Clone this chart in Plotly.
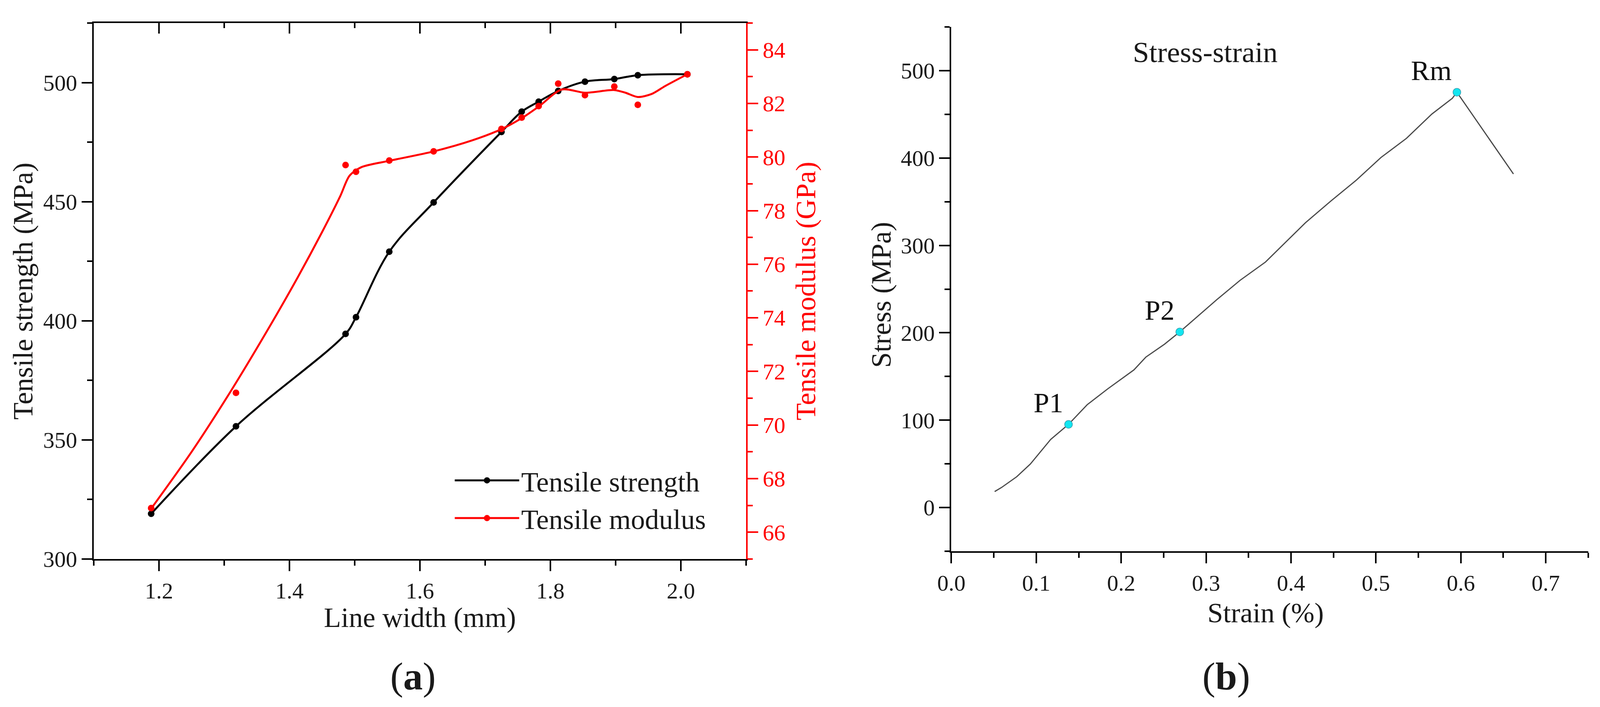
import plotly.graph_objects as go

# ---- panel (a): tensile properties vs line width ----
line_width = [1.188, 1.318, 1.486, 1.502, 1.553, 1.621, 1.725, 1.756, 1.782, 1.812, 1.853, 1.898, 1.934, 2.010]
tensile_strength = [319.0, 355.7, 394.5, 401.5, 429.0, 449.7, 479.3, 487.8, 492.0, 496.5, 500.4, 501.5, 503.1, 503.5]
tensile_modulus = [66.9, 71.2, 79.7, 79.45, 79.87, 80.21, 81.05, 81.47, 81.9, 82.74, 82.31, 82.63, 81.95, 83.09]

# smoothed modulus curve as drawn in the figure (does not pass through every point)
modulus_curve_x = [1.188, 1.25, 1.311, 1.363, 1.409, 1.45, 1.478, 1.492, 1.51, 1.553, 1.621, 1.68,
                   1.725, 1.756, 1.783, 1.8175, 1.853, 1.898, 1.915, 1.934, 1.955, 1.976, 2.010]
modulus_curve_y = [66.88, 69.0, 71.3, 73.4, 75.35, 77.2, 78.55, 79.3, 79.62, 79.86, 80.21, 80.62,
                   81.04, 81.45, 81.9, 82.52, 82.4, 82.5, 82.4, 82.24, 82.35, 82.65, 83.09]

# ---- panel (b): stress-strain curve ----
strain = [0.051, 0.059, 0.077, 0.093, 0.117, 0.138, 0.160, 0.184, 0.215, 0.229, 0.251, 0.269,
          0.313, 0.340, 0.370, 0.417, 0.447, 0.477, 0.506, 0.536, 0.566, 0.590, 0.5954, 0.662]
stress = [18.3, 22.9, 35.3, 49.8, 78.0, 95.2, 117.7, 135.7, 157.5, 172.1, 186.9, 201.0,
          238.2, 260.0, 281.0, 325.9, 350.8, 374.7, 400.6, 422.5, 450.4, 468.3, 475.3, 381.7]

point_strain = [0.138, 0.269, 0.5954]
point_stress = [95.2, 201.0, 475.3]
point_names = ["P1", "P2", "Rm"]

FONT = "Liberation Serif, Times New Roman, serif"
TICK = 58
TITLE = 72

fig = go.Figure()

fig.add_trace(go.Scatter(x=line_width, y=tensile_strength, mode="lines+markers",
                         name="Tensile strength",
                         line=dict(color="black", width=5, shape="spline"),
                         marker=dict(size=17, color="black"),
                         xaxis="x", yaxis="y"))
fig.add_trace(go.Scatter(x=modulus_curve_x, y=modulus_curve_y, mode="lines",
                         line=dict(color="red", width=5, shape="spline", smoothing=0.8),
                         showlegend=False, xaxis="x", yaxis="y2"))
fig.add_trace(go.Scatter(x=line_width, y=tensile_modulus, mode="markers",
                         marker=dict(size=17, color="red"),
                         showlegend=False, xaxis="x", yaxis="y2"))
# legend entry for the modulus series
fig.add_trace(go.Scatter(x=[None], y=[None], mode="lines+markers", name="Tensile modulus",
                         line=dict(color="red", width=5), marker=dict(size=17, color="red"),
                         xaxis="x", yaxis="y2"))
# keeps the top (inward ticks) axis alive
fig.add_trace(go.Scatter(x=[None], y=[None], showlegend=False, hoverinfo="skip",
                         xaxis="x3", yaxis="y"))

fig.add_trace(go.Scatter(x=strain, y=stress, mode="lines",
                         line=dict(color="#4a4a4a", width=3),
                         showlegend=False, xaxis="x2", yaxis="y3"))
fig.add_trace(go.Scatter(x=point_strain, y=point_stress, mode="markers+text",
                         text=point_names, textposition="top left",
                         textfont=dict(family=FONT, size=TITLE, color="#111111"),
                         marker=dict(size=20, color="#12e6f0", line=dict(color="#3a9fb0", width=1.5)),
                         showlegend=False, xaxis="x2", yaxis="y3"))

def ax(**kw):
    base = dict(showgrid=False, zeroline=False, showline=True, linewidth=4, linecolor="black",
                automargin=False,
                ticks="outside", ticklen=27, tickwidth=4, tickcolor="black",
                tickfont=dict(family=FONT, size=TICK, color="#1a1a1a"))
    base.update(kw)
    return base

minor_out = dict(ticks="outside", ticklen=13, tickwidth=4, tickcolor="black")

fig.update_layout(
    template="none",
    autosize=True,
    margin=dict(l=0, r=0, t=0, b=0, pad=0),
    paper_bgcolor="white", plot_bgcolor="white",
    font=dict(family=FONT, color="#1a1a1a"),
    xaxis=ax(domain=[0.0586, 0.4663], range=[1.1, 2.1], anchor="y", dtick=0.2, tick0=1.2,
             tickformat=".1f", minor=dict(dtick=0.1, **minor_out)),
    xaxis3=ax(domain=[0.0586, 0.4663], range=[1.1, 2.1], anchor="y", overlaying="x", side="top",
              dtick=0.2, tick0=1.2, ticks="inside", showticklabels=False,
              minor=dict(dtick=0.1, ticks="inside", ticklen=13, tickwidth=4, tickcolor="black")),
    yaxis=ax(domain=[0.2093, 0.9674], range=[300, 525], anchor="x", dtick=50,
             minor=dict(dtick=25, **minor_out)),
    yaxis2=ax(range=[65, 85], anchor="x", overlaying="y", side="right", dtick=2,
              linecolor="red", tickcolor="red",
              tickfont=dict(family=FONT, size=TICK, color="red"),
              minor=dict(dtick=1, ticks="outside", ticklen=13, tickwidth=4, tickcolor="red")),
    xaxis2=ax(domain=[0.5946, 0.9926], range=[0, 0.75], anchor="y3", dtick=0.1,
              tickformat=".1f", minor=dict(dtick=0.05, **minor_out)),
    yaxis3=ax(domain=[0.2203, 0.9619], range=[-50, 550], anchor="x2", dtick=100,
              minor=dict(dtick=50, **minor_out)),
    legend=dict(x=0.283, y=0.35, xanchor="left", yanchor="top",
                font=dict(family=FONT, size=TITLE, color="#1a1a1a"),
                bgcolor="rgba(0,0,0,0)", itemwidth=165),
    showlegend=True,
)

notes = [
    dict(text="Line width (mm)", x=0.2625, y=0.1265),
    dict(text="Tensile strength (MPa)", x=0.0144, y=0.5886, textangle=-90),
    dict(text="Tensile modulus (GPa)", x=0.5036, y=0.5886, textangle=-90, font=dict(color="red")),
    dict(text="Strain (%)", x=0.791, y=0.1331),
    dict(text="Stress (MPa)", x=0.5508, y=0.583, textangle=-90),
    dict(text="(<b>a</b>)", x=0.2583, y=0.0436, font=dict(size=100)),
    dict(text="(<b>b</b>)", x=0.7663, y=0.0436, font=dict(size=100)),
]
for n in notes:
    f = dict(family=FONT, size=TITLE, color="#1a1a1a")
    f.update(n.pop("font", {}))
    fig.add_annotation(xref="paper", yref="paper", showarrow=False, font=f,
                       xanchor="center", yanchor="middle", **n)

fig.add_annotation(text="Stress-strain", x=0.299, y=521, xref="x2", yref="y3", showarrow=False,
                   xanchor="center", yanchor="middle",
                   font=dict(family=FONT, size=75, color="#1a1a1a"))

fig.write_html("out.html", default_width="100vw", default_height="100vh",
               config={"displayModeBar": False},
               post_script="document.body.style.margin='0';document.body.style.overflow='hidden';")
